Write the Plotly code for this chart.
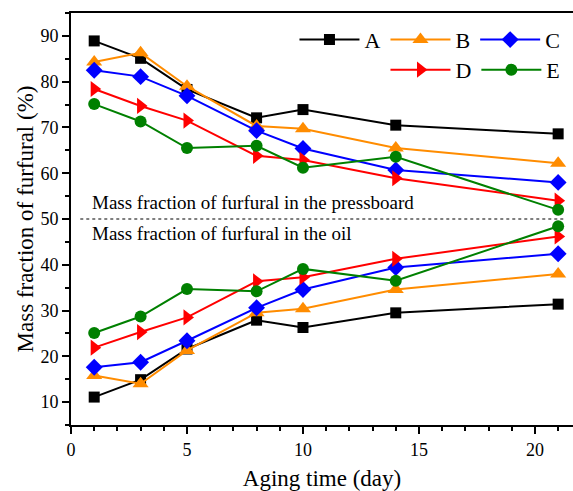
import plotly.graph_objects as go

days = [1, 3, 5, 8, 10, 14, 21]

# Mass fraction of furfural in the pressboard (%)
A_board = [88.9, 85.1, 78.3, 72.1, 73.9, 70.5, 68.6]
B_board = [84.3, 86.3, 79.0, 70.3, 69.7, 65.5, 62.2]
C_board = [82.5, 81.1, 76.9, 69.3, 65.4, 60.7, 58.0]
D_board = [78.4, 74.7, 71.5, 63.8, 62.9, 58.9, 54.0]
E_board = [75.1, 71.3, 65.5, 66.0, 61.2, 63.6, 52.0]

# Mass fraction of furfural in the oil (%)
A_oil = [11.1, 14.9, 21.6, 27.9, 26.3, 29.5, 31.4]
B_oil = [15.8, 14.0, 21.3, 29.5, 30.4, 34.6, 38.0]
C_oil = [17.6, 18.7, 23.4, 30.6, 34.6, 39.4, 42.4]
D_oil = [21.9, 25.3, 28.5, 36.4, 37.3, 41.3, 46.2]
E_oil = [25.1, 28.7, 34.7, 34.2, 39.1, 36.5, 48.4]

names = ["A", "B", "C", "D", "E"]
boards = [A_board, B_board, C_board, D_board, E_board]
oils = [A_oil, B_oil, C_oil, D_oil, E_oil]
colors = ["#000000", "#FF8C00", "#0000FF", "#FF0000", "#008000"]
symbols = ["square", "triangle-up", "diamond", "triangle-right", "circle"]
sizes = [11, 14, 13, 14, 12]
legends = ["legend", "legend", "legend", "legend2", "legend2"]

divider = 50
divider_labels = ["Mass fraction of furfural in the pressboard",
                  "Mass fraction of furfural in the oil"]

FONT = "Liberation Serif"

fig = go.Figure()
for n, b, o, c, s, sz, lg in zip(names, boards, oils, colors, symbols, sizes, legends):
    for vals, show in ((b, True), (o, False)):
        fig.add_trace(go.Scatter(
            x=days, y=vals, mode="lines+markers", name=n,
            legendgroup=n, showlegend=show, legend=lg,
            line=dict(color=c, width=2),
            marker=dict(symbol=s, size=sz, color=c, line=dict(width=0)),
        ))

fig.add_shape(type="line", xref="x", yref="y", x0=0.4, x1=21.3,
              y0=divider, y1=divider,
              line=dict(color="black", width=1.2, dash="dot"))
fig.add_annotation(x=0.8, y=divider, xref="x", yref="y", text=divider_labels[0],
                   showarrow=False, xanchor="left", yanchor="bottom", yshift=4,
                   font=dict(family=FONT, size=19, color="black"))
fig.add_annotation(x=0.8, y=divider, xref="x", yref="y", text=divider_labels[1],
                   showarrow=False, xanchor="left", yanchor="top", yshift=-2,
                   font=dict(family=FONT, size=19, color="black"))

fig.update_layout(
    width=573, height=491,
    margin=dict(l=71, r=0, t=13, b=66),
    plot_bgcolor="white", paper_bgcolor="white",
    font=dict(family=FONT, color="black"),
    legend=dict(orientation="h", x=0.985, xanchor="right", y=0.935, yanchor="middle",
                bgcolor="rgba(0,0,0,0)", font=dict(family=FONT, size=22),
                itemwidth=60, tracegroupgap=0),
    legend2=dict(orientation="h", x=0.985, xanchor="right", y=0.862, yanchor="middle",
                 bgcolor="rgba(0,0,0,0)", font=dict(family=FONT, size=22),
                 itemwidth=60, tracegroupgap=0),
    xaxis=dict(range=[0, 21.64], tickvals=[0, 5, 10, 15, 20],
               ticks="outside", ticklen=7, tickwidth=1.5, tickcolor="black",
               minor=dict(dtick=1, ticks="outside", ticklen=4, tickwidth=1.5, tickcolor="black"),
               showline=True, linecolor="black", linewidth=2, mirror=True,
               showgrid=False, zeroline=False,
               tickfont=dict(family=FONT, size=18),
               title=dict(text="Aging time (day)", font=dict(family=FONT, size=23), standoff=12)),
    yaxis=dict(range=[5, 95], tickvals=[10, 20, 30, 40, 50, 60, 70, 80, 90],
               ticks="outside", ticklen=7, tickwidth=1.5, tickcolor="black",
               minor=dict(dtick=5, tick0=5, ticks="outside", ticklen=4, tickwidth=1.5, tickcolor="black"),
               showline=True, linecolor="black", linewidth=2,
               showgrid=False, zeroline=False,
               tickfont=dict(family=FONT, size=18),
               title=dict(text="Mass fraction of furfural (%)", font=dict(family=FONT, size=23), standoff=0)),
)

fig.write_html("out.html", config={"displayModeBar": False},
               post_script="document.body.style.margin='0px';")
